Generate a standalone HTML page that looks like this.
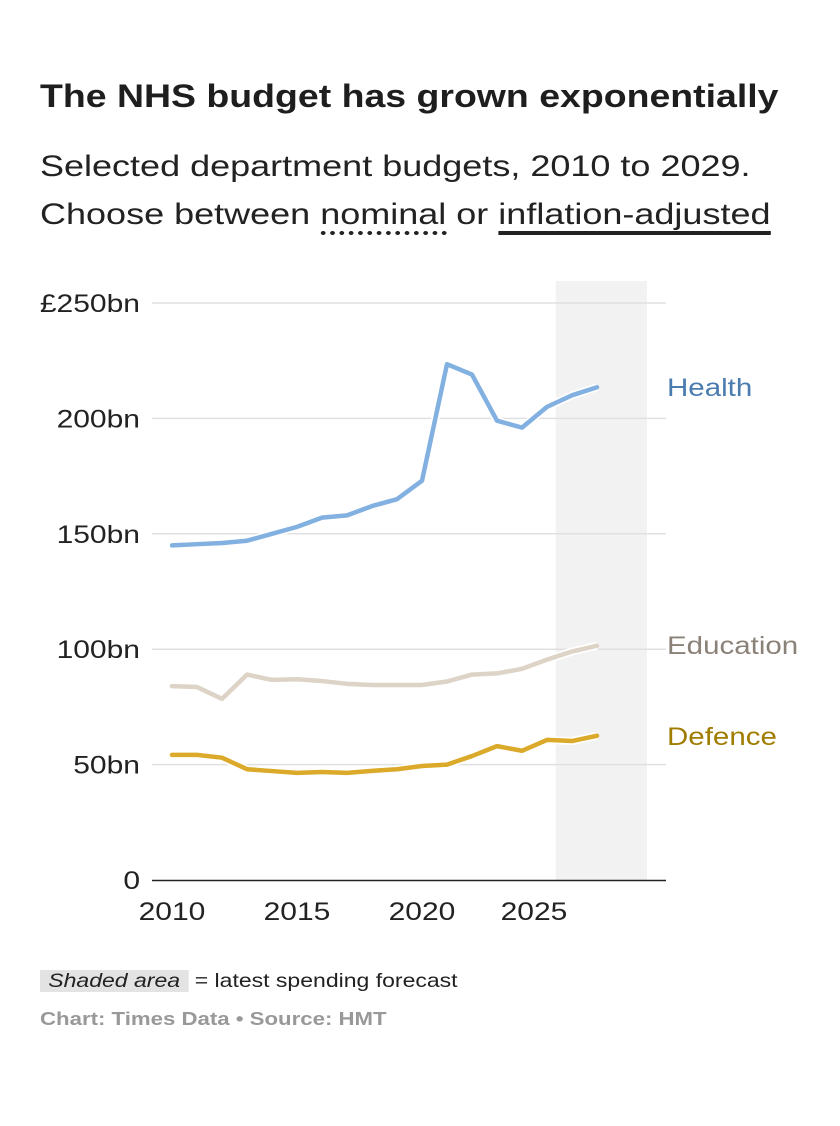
<!DOCTYPE html>
<html><head><meta charset="utf-8"><style>
body{margin:0;background:#fff;width:840px;height:1126px;overflow:hidden;font-family:"Liberation Sans",sans-serif;color:#222}
.t{position:absolute;white-space:nowrap;transform-origin:0 0}
</style></head><body>
<div class="t" style="left:40px;top:78px;font-size:32px;font-weight:bold;color:#1e1e1e;transform:scaleX(1.17)">The NHS budget has grown exponentially</div>
<div class="t" style="left:40px;top:143px;font-size:30px;line-height:48px;color:#222;transform:scaleX(1.2)">Selected department budgets, 2010 to 2029.<br>Choose between <span style="border-bottom:4px dotted #222">nominal</span> or <span style="border-bottom:4px solid #222">inflation-adjusted</span></div>
<svg width="840" height="1126" style="position:absolute;left:0;top:0" id="chart"></svg>
<div class="t" style="left:40px;top:966px;font-size:19.5px;line-height:31px;transform:scaleX(1.18)"><span style="background:#e3e3e3;padding:0 7px;font-style:italic">Shaded area</span> = latest spending forecast</div>
<div class="t" style="left:40px;top:1008px;font-size:18.5px;font-weight:bold;color:#999;transform:scaleX(1.2)">Chart: Times Data • Source: HMT</div>
<script>
const years=[2010,2011,2012,2013,2014,2015,2016,2017,2018,2019,2020,2021,2022,2023,2024,2025,2026,2027];
const health=[145,145.5,146,147,150,153,157,158,162,165,173,223.5,219,199,196,205,210,213.5];
const education=[84,83.6,78.5,89,86.7,87,86.2,85,84.5,84.5,84.5,86,89,89.5,91.5,95.5,99,101.5];
const defence=[54.2,54.2,53,48,47.2,46.4,46.8,46.4,47.3,48,49.4,50,53.7,58,56,60.7,60.2,62.5];
const yTicks=[0,50,100,150,200,250];
const yTickLabels=["0","50bn","100bn","150bn","200bn","£250bn"];
const xTicks=[2010,2015,2020,2025];
const forecastStart=2025.35, forecastEnd=2029;
const svg=document.getElementById('chart');
const NS='http://www.w3.org/2000/svg';
const x=v=>172+(v-2010)*25;
const y=v=>880-v*2.308;
function mk(tag,attrs){const e=document.createElementNS(NS,tag);for(const k in attrs)e.setAttribute(k,attrs[k]);svg.appendChild(e);return e;}
function widen(t,f){const w=t.getComputedTextLength();t.setAttribute('textLength',w*f);t.setAttribute('lengthAdjust','spacingAndGlyphs');}
let r=mk('rect',{x:x(forecastStart),y:281,width:x(forecastEnd)-x(forecastStart),height:599,fill:'#f2f2f2'});


yTicks.forEach((v,i)=>{
 if(v>0){let g=mk('line',{x1:152,x2:666,y1:y(v),y2:y(v),stroke:'#e0e0e0','stroke-width':1.5});
 
 }
 let t=mk('text',{x:140,y:y(v)+9,'text-anchor':'end','font-size':25,fill:'#222','font-family':'Liberation Sans'});
 t.textContent=yTickLabels[i];
 
 
 widen(t,1.2);
});
let ax=mk('line',{x1:152,x2:666,y1:880.5,y2:880.5,stroke:'#222','stroke-width':1.5});


xTicks.forEach(v=>{
 let t=mk('text',{x:x(v)-(v===2025?13:0),y:920,'text-anchor':'middle','font-size':25,fill:'#222','font-family':'Liberation Sans'});
 t.textContent=v;
 
 
 widen(t,1.2);
});
const series=[[health,'#82b0e0','Health','#4a7cb0','health-line'],[education,'#ddd3c6','Education','#8a8178','education-line'],[defence,'#dcaa2a','Defence','#a07c00','defence-line']];
const labelY={Health:396,Education:654,Defence:745};
series.forEach(([d,c,n,lc,dn])=>{
 const pts=d.map((v,i)=>x(years[i])+','+y(v)).join(' ');
 let h=mk('polyline',{points:pts,fill:'none',stroke:'#fff','stroke-width':8,'stroke-linejoin':'round'});
 
 
 let p=mk('polyline',{points:pts,fill:'none',stroke:c,'stroke-width':4.5,'stroke-linejoin':'round','stroke-linecap':'round'});
 
 
 let t=mk('text',{x:667,y:labelY[n],'font-size':25,fill:lc,'font-family':'Liberation Sans'});
 t.textContent=n;
 
 
 widen(t,1.18);
});
</script>
</body></html>
